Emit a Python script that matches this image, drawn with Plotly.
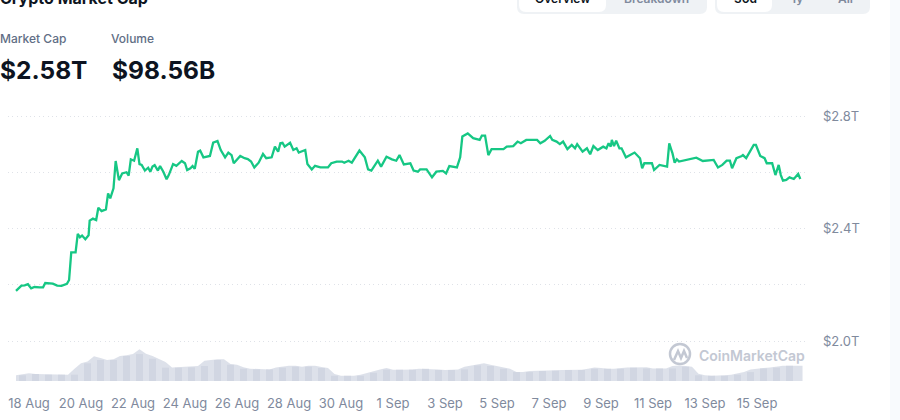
""" Crypto market cap overview chart """
import pandas as pd
import plotly.graph_objects as go

# hours after 18 Aug 00:00, market cap in trillions
cap_hours = [
    -12, -10, -7, -4, -1, 2, 5, 10, 13, 15, 19, 22, 26, 30, 35, 37, 39, 43, 45, 47,
    49, 52, 55, 56, 59, 62, 64, 67, 71, 73, 75, 78, 80, 82, 83, 86, 90, 92, 94, 97,
    100, 102, 104, 107, 110, 112, 114, 116, 119, 121, 124, 127, 129, 133, 136, 141, 144, 146, 149, 151,
    153, 156, 158, 161, 167, 170, 174, 177, 181, 184, 187, 189, 192, 195, 199, 202, 205, 208, 212, 216,
    219, 224, 227, 230, 232, 234, 236, 241, 244, 247, 249, 255, 257, 261, 264, 269, 276, 279, 284, 289,
    291, 295, 298, 302, 305, 310, 313, 316, 322, 325, 330, 335, 339, 342, 346, 352, 355, 359, 361, 367,
    372, 376, 382, 385, 388, 395, 398, 400, 405, 410, 416, 418, 421, 424, 427, 438, 441, 447, 451, 454,
    459, 469, 472, 476, 481, 483, 487, 490, 493, 497, 501, 504, 506, 511, 515, 518, 521, 525, 530, 533,
    535, 537, 538, 540, 542, 545, 547, 551, 555, 559, 564, 566, 568, 575, 577, 582, 589, 591, 593, 594,
    596, 598, 600, 607, 616, 622, 632, 636, 640, 644, 647, 649, 653, 658, 659, 662, 669, 671, 675, 679,
    681, 686, 689, 692, 694, 696, 699, 702, 706, 710, 712,
]
cap_values = [
    2.178, 2.187, 2.197, 2.198, 2.202, 2.187, 2.192, 2.191, 2.191, 2.206, 2.204, 2.204, 2.197, 2.196, 2.203, 2.217, 2.315, 2.315, 2.381, 2.369,
    2.375, 2.362, 2.376, 2.428, 2.435, 2.430, 2.474, 2.462, 2.468, 2.525, 2.507, 2.543, 2.640, 2.602, 2.572, 2.596, 2.600, 2.588, 2.646, 2.641,
    2.685, 2.629, 2.626, 2.606, 2.616, 2.602, 2.620, 2.625, 2.606, 2.622, 2.602, 2.575, 2.590, 2.629, 2.623, 2.640, 2.632, 2.608, 2.614, 2.622,
    2.612, 2.673, 2.677, 2.653, 2.658, 2.705, 2.711, 2.679, 2.653, 2.670, 2.661, 2.632, 2.646, 2.658, 2.650, 2.647, 2.638, 2.617, 2.634, 2.665,
    2.650, 2.653, 2.691, 2.673, 2.703, 2.705, 2.691, 2.705, 2.679, 2.685, 2.670, 2.679, 2.629, 2.610, 2.623, 2.617, 2.617, 2.632, 2.638, 2.638,
    2.634, 2.641, 2.634, 2.658, 2.677, 2.653, 2.610, 2.606, 2.641, 2.620, 2.655, 2.646, 2.641, 2.661, 2.628, 2.632, 2.606, 2.602, 2.610, 2.610,
    2.582, 2.602, 2.605, 2.596, 2.622, 2.617, 2.653, 2.727, 2.738, 2.721, 2.715, 2.730, 2.730, 2.661, 2.682, 2.682, 2.691, 2.693, 2.709, 2.703,
    2.715, 2.715, 2.703, 2.712, 2.729, 2.715, 2.709, 2.700, 2.709, 2.682, 2.697, 2.685, 2.700, 2.673, 2.685, 2.664, 2.693, 2.679, 2.691, 2.685,
    2.703, 2.691, 2.715, 2.693, 2.712, 2.685, 2.685, 2.653, 2.661, 2.670, 2.650, 2.614, 2.632, 2.632, 2.608, 2.626, 2.620, 2.703, 2.679, 2.667,
    2.634, 2.646, 2.638, 2.644, 2.652, 2.640, 2.644, 2.617, 2.626, 2.641, 2.641, 2.614, 2.650, 2.658, 2.661, 2.650, 2.697, 2.697, 2.658, 2.650,
    2.632, 2.632, 2.590, 2.626, 2.590, 2.570, 2.573, 2.582, 2.576, 2.594, 2.576,
]
# volume in billions, one value every 6 hours from 17 Aug 12:00
volume_values = [
    36, 44, 48, 44, 44, 44, 40, 40, 40, 77, 111, 123, 155, 144, 132, 136, 157, 161, 169, 199,
    171, 157, 140, 119, 84, 86, 86, 90, 94, 127, 132, 136, 136, 107, 102, 86, 77, 77, 73, 73,
    84, 90, 96, 96, 90, 96, 96, 88, 82, 44, 33, 33, 33, 40, 52, 65, 73, 82, 71, 71,
    71, 73, 77, 77, 77, 73, 69, 69, 73, 90, 98, 107, 111, 102, 94, 86, 77, 56, 56, 63,
    63, 65, 65, 67, 69, 69, 69, 71, 77, 84, 82, 77, 77, 82, 84, 84, 84, 86, 79, 79,
    79, 94, 98, 94, 90, 46, 36, 33, 33, 36, 40, 50, 56, 73, 79, 82, 84, 92, 96, 96, 96, 96,
]
tick_dates = [
    "2024-08-18", "2024-08-20", "2024-08-22", "2024-08-24", "2024-08-26", "2024-08-28", "2024-08-30",
    "2024-09-01", "2024-09-03", "2024-09-05", "2024-09-07", "2024-09-09", "2024-09-11", "2024-09-13", "2024-09-15",
]
tick_labels = [
    "18 Aug", "20 Aug", "22 Aug", "24 Aug", "26 Aug", "28 Aug", "30 Aug",
    "1 Sep", "3 Sep", "5 Sep", "7 Sep", "9 Sep", "11 Sep", "13 Sep", "15 Sep",
]
price_ticks = [2.0, 2.2, 2.4, 2.6, 2.8]
price_labels = ["$2.0T", "", "$2.4T", "", "$2.8T"]

WIDTH, HEIGHT = 900, 420
FONT = "Inter"
GREEN = "#16c784"
GREY = "#808a9d"
DARK = "#0d1421"
MARK = "#c3c8d3"
BAR_MS = 6.5 * 3600 * 1000


def px_x(x):
    return x / WIDTH


def px_y(y):
    return 1 - y / HEIGHT


def label(fig, x, y, text, size, color, weight=400, anchor="left"):
    fig.add_annotation(
        x=px_x(x), y=px_y(y), xref="paper", yref="paper", text=text, showarrow=False,
        xanchor=anchor, yanchor="middle", borderpad=0,
        font=dict(family=FONT, size=size, color=color, weight=weight),
    )


def pill(fig, x0, x1, y0, y1, color):
    r = 7
    path = (
        f"M {px_x(x0)} {px_y(y0)} L {px_x(x1)} {px_y(y0)} L {px_x(x1)} {px_y(y1 - r)} "
        f"Q {px_x(x1)} {px_y(y1)} {px_x(x1 - r)} {px_y(y1)} L {px_x(x0 + r)} {px_y(y1)} "
        f"Q {px_x(x0)} {px_y(y1)} {px_x(x0)} {px_y(y1 - r)} Z"
    )
    fig.add_shape(type="path", path=path, xref="paper", yref="paper", fillcolor=color, line_width=0, layer="below")


start = pd.Timestamp("2024-08-18")
cap_dates = start + pd.to_timedelta(cap_hours, unit="h")
volume_dates = pd.date_range("2024-08-17 12:00", periods=len(volume_values), freq="6h")

# stripes stay under the volume outline
stripe_idx = list(range(1, len(volume_values) - 1, 2))
stripe_dates = [volume_dates[i] for i in stripe_idx]
stripe_values = [min(volume_values[i - 1:i + 2]) for i in stripe_idx]

# 26 pixels per day, 18 Aug tick sits at x=29
x_left = start + pd.Timedelta(days=(8 - 29) / 26)
x_right = start + pd.Timedelta(days=(805 - 29) / 26)

fig = go.Figure()
# bars are drawn under the fill, so the fill has to be see-through
fig.add_bar(
    x=stripe_dates, y=stripe_values, yaxis="y2", width=BAR_MS,
    marker=dict(color="#e1e3eb", line_width=0), hoverinfo="skip",
)
fig.add_scatter(
    x=volume_dates, y=volume_values, yaxis="y2", mode="lines", fill="tozeroy",
    line_width=0, fillcolor="rgba(198,205,220,0.6)", hoverinfo="skip",
)
fig.add_scatter(
    x=cap_dates, y=cap_values, mode="lines",
    line=dict(color=GREEN, width=2.3), hoverinfo="skip",
)

fig.update_layout(
    width=WIDTH, height=HEIGHT, margin=dict(l=0, r=0, t=0, b=0),
    paper_bgcolor="white", plot_bgcolor="white", showlegend=False, barmode="overlay",
    font=dict(family=FONT),
    xaxis=dict(
        domain=[px_x(8), px_x(805)], range=[x_left, x_right], type="date",
        tickvals=tick_dates, ticktext=tick_labels, tickangle=0, showgrid=False, zeroline=False,
        showline=False, ticks="", ticklabelstandoff=13,
        tickfont=dict(family=FONT, size=13, color=GREY),
    ),
    yaxis=dict(
        domain=[px_y(381), px_y(100)], range=[2.8 - 265 / 281.25, 2.8 + 16 / 281.25],
        tickvals=price_ticks, ticktext=price_labels, side="right", showgrid=True,
        gridcolor="#dfe2e8", griddash="1px,3.4px", gridwidth=1, zeroline=False, showline=False,
        ticks="", ticklabelstandoff=17, tickfont=dict(family=FONT, size=13, color=GREY),
    ),
    yaxis2=dict(
        domain=[px_y(381), px_y(100)], range=[0, 281 * 6.28], overlaying="y", visible=False,
    ),
)

# header
label(fig, -1, -2, "Crypto Market Cap", 16, DARK, 700)
label(fig, -1, 38, "Market Cap", 12, "#616e85", 500)
label(fig, 110, 38, "Volume", 12, "#616e85", 500)
label(fig, -1, 70, "$2.58T", 24.5, DARK, 700)
label(fig, 111, 70, "$98.56B", 24.5, DARK, 700)

# toggle groups
pill(fig, 517, 707, -10, 14, "#eff2f5")
pill(fig, 519, 606, -10, 12, "#ffffff")
pill(fig, 715, 870, -10, 14, "#eff2f5")
pill(fig, 717, 772, -10, 12, "#ffffff")
label(fig, 562, -2, "Overview", 12, DARK, 600, "center")
label(fig, 656, -2, "Breakdown", 12, GREY, 600, "center")
label(fig, 745, -2, "30d", 12, DARK, 600, "center")
label(fig, 797, -2, "1y", 12, GREY, 600, "center")
label(fig, 845, -2, "All", 12, GREY, 600, "center")

# page edge
fig.add_shape(
    type="rect", xref="paper", yref="paper", x0=px_x(890), x1=1, y0=0, y1=1,
    fillcolor="#f8fafd", line_width=0, layer="below",
)

# watermark
fig.add_shape(
    type="circle", xref="paper", yref="paper", x0=px_x(670), x1=px_x(690), y0=px_y(364), y1=px_y(344),
    line=dict(color=MARK, width=2.5),
)
fig.add_shape(
    type="path", xref="paper", yref="paper", line=dict(color=MARK, width=2.5),
    path=(
        f"M {px_x(674)} {px_y(360)} L {px_x(678)} {px_y(351)} L {px_x(681)} {px_y(358)} "
        f"L {px_x(684)} {px_y(351)} L {px_x(687)} {px_y(358)}"
    ),
)
label(fig, 698, 355, "CoinMarketCap", 14, MARK, 600)

fig.write_html(
    "out.html", config=dict(displayModeBar=False),
    post_script="document.body.style.margin = '0';",
)
